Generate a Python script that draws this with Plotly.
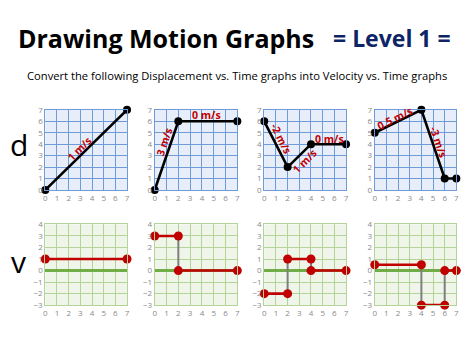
import plotly.graph_objects as go

# ---------------- data ----------------
# displacement vs time (top row)
d_times = [[0, 7], [0, 2, 7], [0, 2, 4, 7], [0, 4, 6, 7]]
d_values = [[0, 7], [0, 6, 6], [6, 2, 4, 4], [5, 7, 1, 1]]

# velocity per segment (bottom row), segments between the same time breakpoints
v_values = [[1], [3, 0], [-2, 1, 0], [0.5, -3, 0]]

# slope labels on top row: text, x, y, angle
lab_text = [["1 m/s"], ["3 m/s", "0 m/s"], ["-2 m/s", "1 m/s", "0 m/s"], ["0.5 m/s", "-3 m/s", "0 m/s"]]
lab_x = [[2.9], [0.8, 4.4], [1.4, 3.45, 5.6], [1.75, 5.45, 7.12]]
lab_y = [[3.6], [4.2, 6.55], [4.5, 2.55, 4.45], [6.3, 4.15, 1.67]]
lab_ang = [[-45], [-71.6, 0], [63.4, -45, 0], [-26.6, 71.6, 0]]

ticks_d = [0, 1, 2, 3, 4, 5, 6, 7]
ticks_t = [0, 1, 2, 3, 4, 5, 6, 7]
ticks_v = [-3, -2, -1, 0, 1, 2, 3, 4]

# ---------------- layout geometry ----------------
OFF = 8  # page body margin
W, H = 474 - OFF, 355 - OFF
x_dom_px = [(43.7, 126.3), (154.3, 237.8), (265.0, 347.7), (376.7, 459.2)]
top_px = (107.0, 189.7)
bot_px = (225.3, 308.7)

def xd(p):
    return [(p[0] - OFF) / W, (p[1] - OFF) / W]

def yd(p):
    return [1 - (p[1] - OFF) / H, 1 - (p[0] - OFF) / H]

def px(x):
    return (x - OFF) / W

def py(y):
    return 1 - (y - OFF) / H

RED = "#c00000"
TOP_BG, TOP_GRID = "#e8eef9", "#6f9bd9"
BOT_BG, BOT_GRID = "#eff6e9", "#b3d398"
TICKF = dict(size=8, color="#8a8a8a", family="Open Sans")

fig = go.Figure()
layout = {}
annotations = []
shapes = []

for i in range(4):
    for row in (0, 1):
        k = i + 1 + 4 * row
        xa = "xaxis" if k == 1 else f"xaxis{k}"
        ya = "yaxis" if k == 1 else f"yaxis{k}"
        grid = TOP_GRID if row == 0 else BOT_GRID
        layout[xa] = dict(
            domain=xd(x_dom_px[i]), range=[0, 7], tickvals=ticks_t,
            showgrid=True, gridcolor=grid, gridwidth=1, zeroline=False,
            showline=True, linecolor=grid, linewidth=1, mirror=True,
            ticks="", tickfont=TICKF, fixedrange=True,
            anchor=f"y{k}" if k > 1 else "y",
        )
        if row == 0:
            layout[ya] = dict(
                domain=yd(top_px), range=[0, 7], tickvals=ticks_d,
                showgrid=True, gridcolor=grid, gridwidth=1, zeroline=False,
                showline=True, linecolor=grid, linewidth=1, mirror=True,
                ticks="", tickfont=TICKF, fixedrange=True,
                anchor=f"x{k}" if k > 1 else "x",
            )
        else:
            layout[ya] = dict(
                domain=yd(bot_px), range=[-3, 4], tickvals=ticks_v,
                showgrid=True, gridcolor=grid, gridwidth=1, zeroline=True,
                zerolinecolor="#70ad47", zerolinewidth=2.5,
                showline=True, linecolor=grid, linewidth=1, mirror=True,
                ticks="", tickfont=TICKF, fixedrange=True,
                anchor=f"x{k}" if k > 1 else "x",
            )
        bg = TOP_BG if row == 0 else BOT_BG
        shapes.append(dict(type="rect", xref=f"x{k} domain" if k > 1 else "x domain",
                           yref=f"y{k} domain" if k > 1 else "y domain",
                           x0=0, x1=1, y0=0, y1=1, fillcolor=bg, line_width=0,
                           layer="below"))

    kt = i + 1
    xr = "x" if kt == 1 else f"x{kt}"
    yr = "y" if kt == 1 else f"y{kt}"
    fig.add_trace(go.Scatter(
        x=d_times[i], y=d_values[i], xaxis=xr, yaxis=yr, mode="lines+markers",
        line=dict(color="black", width=2.6), marker=dict(color="black", size=8),
        cliponaxis=False, hoverinfo="skip", showlegend=False))
    for t, lx, ly, ang in zip(lab_text[i], lab_x[i], lab_y[i], lab_ang[i]):
        annotations.append(dict(
            x=lx, y=ly, xref=xr, yref=yr, text=f"<b>{t}</b>", showarrow=False,
            textangle=ang, font=dict(size=10.5, color=RED, family="Open Sans")))

    kb = i + 5
    xr = f"x{kb}"
    yr = f"y{kb}"
    tb = d_times[i]
    vv = v_values[i]
    for j in range(1, len(vv)):
        fig.add_trace(go.Scatter(
            x=[tb[j], tb[j]], y=[vv[j - 1], vv[j]], xaxis=xr, yaxis=yr,
            mode="lines", line=dict(color="#7f7f7f", width=2),
            cliponaxis=False, hoverinfo="skip", showlegend=False))
    for j in range(len(vv)):
        fig.add_trace(go.Scatter(
            x=[tb[j], tb[j + 1]], y=[vv[j], vv[j]], xaxis=xr, yaxis=yr,
            mode="lines+markers", line=dict(color=RED, width=2.6),
            marker=dict(color=RED, size=9),
            cliponaxis=False, hoverinfo="skip", showlegend=False))

annotations += [
    dict(x=px(14), y=py(33), xref="paper", yref="paper", xanchor="left", yanchor="middle",
         text="<b>Drawing Motion Graphs</b>", showarrow=False,
         font=dict(size=25, color="black", family="Open Sans")),
    dict(x=px(332), y=py(33), xref="paper", yref="paper", xanchor="left", yanchor="middle",
         text="<b>= Level 1 =</b>", showarrow=False,
         font=dict(size=23, color="#0d2466", family="Open Sans")),
    dict(x=px(237), y=py(71), xref="paper", yref="paper", xanchor="center", yanchor="middle",
         text="Convert the following Displacement vs. Time graphs into Velocity vs. Time graphs",
         showarrow=False, font=dict(size=11.2, color="black", family="Open Sans")),
    dict(x=px(17), y=py(143), xref="paper", yref="paper", xanchor="center", yanchor="middle",
         text="d", showarrow=False, font=dict(size=30, color="black", family="Open Sans")),
    dict(x=px(17), y=py(264), xref="paper", yref="paper", xanchor="center", yanchor="middle",
         text="v", showarrow=False, font=dict(size=30, color="black", family="Open Sans")),
]

fig.update_layout(
    width=W, height=H, margin=dict(l=0, r=0, t=0, b=0),
    paper_bgcolor="white", plot_bgcolor="rgba(0,0,0,0)",
    annotations=annotations, shapes=shapes, **layout)

fig.write_html("out.html", config={"displayModeBar": False})
